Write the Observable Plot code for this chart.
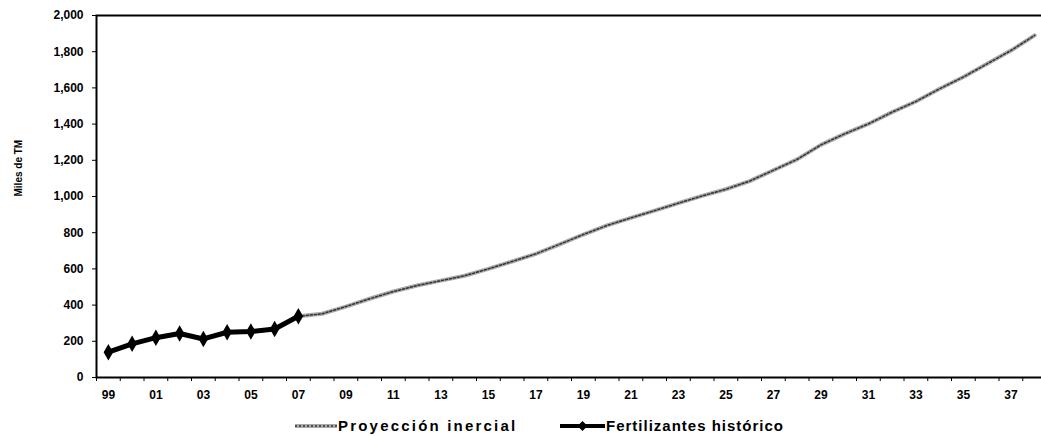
<!DOCTYPE html>
<html><head><meta charset="utf-8">
<script src="https://cdn.jsdelivr.net/npm/d3@7"></script>
<script src="https://cdn.jsdelivr.net/npm/@observablehq/plot@0.6"></script>
<style>
html,body{margin:0;padding:0;background:#fff;overflow:hidden;width:1041px;height:436px;}
#chart{position:relative;width:1041px;height:412px;}
#chart svg{display:block;max-width:none;}
#legend{position:absolute;left:0;top:414px;width:1041px;height:24px;font-family:"Liberation Sans",Arial,sans-serif;font-weight:bold;font-size:15px;color:#000;}
.item{position:absolute;top:0;height:24px;line-height:24px;display:flex;align-items:center;white-space:nowrap;}
.item svg{display:block;margin-right:1px;}
</style></head><body>
<div id="chart"></div>
<div id="legend">
  <div class="item" style="left:295px;letter-spacing:2.2px"><svg width="42" height="10"><line x1="0" y1="5" x2="42" y2="5" stroke="#aaa" stroke-width="4"/><line x1="0" y1="5" x2="42" y2="5" stroke="#333" stroke-width="1.5" stroke-dasharray="2,2"/></svg><span>Proyección inercial</span></div>
  <div class="item" style="left:560px;letter-spacing:1px"><svg width="45" height="12"><line x1="0" y1="6" x2="45" y2="6" stroke="#000" stroke-width="4"/><path d="M22.5,1 L27.5,6 L22.5,11 L17.5,6 Z" fill="#000"/></svg><span>Fertilizantes histórico</span></div>
</div>
<script>
// Years (1999-2038)
const years = [1999,2000,2001,2002,2003,2004,2005,2006,2007,2008,2009,2010,2011,2012,2013,2014,2015,2016,2017,2018,2019,2020,2021,2022,2023,2024,2025,2026,2027,2028,2029,2030,2031,2032,2033,2034,2035,2036,2037,2038];
// Fertilizantes histórico (1999-2007), miles de TM
const histYears = [1999,2000,2001,2002,2003,2004,2005,2006,2007];
const historico = [140,186,220,243,213,250,254,268,338];
// Proyección inercial (2007-2038)
const projYears = [2007,2008,2009,2010,2011,2012,2013,2014,2015,2016,2017,2018,2019,2020,2021,2022,2023,2024,2025,2026,2027,2028,2029,2030,2031,2032,2033,2034,2035,2036,2037,2038];
const proyeccion = [338,352,392,435,475,508,535,562,600,641,683,736,790,840,882,922,963,1003,1040,1085,1145,1205,1285,1346,1401,1466,1525,1595,1660,1733,1806,1890];
// Tick labels
const xLabelYears = [1999,2001,2003,2005,2007,2009,2011,2013,2015,2017,2019,2021,2023,2025,2027,2029,2031,2033,2035,2037];
const xLabels = ["99","01","03","05","07","09","11","13","15","17","19","21","23","25","27","29","31","33","35","37"];
const yTicks = [0,200,400,600,800,1000,1200,1400,1600,1800,2000];

const histData = historico.map((v,i)=>({year:histYears[i], value:v}));
const projData = proyeccion.map((v,i)=>({year:projYears[i], value:v}));
const boundaryTicks = years.map(y => y - 0.5).concat([years[years.length-1] + 0.5]);
const labelMap = new Map(xLabelYears.map((y,i)=>[y, xLabels[i]]));

const chart = Plot.plot({
  width:1041, height:412,
  marginLeft:96, marginRight:-5, marginTop:15, marginBottom:35,
  style:{fontFamily:"Liberation Sans, Arial, sans-serif", fontSize:"12px", color:"#000", background:"transparent", overflow:"visible"},
  x:{domain:[years[0]-0.5, years[years.length-1]+0.5]},
  y:{domain:[0,2000]},
  marks:[
    Plot.axisY({ticks:yTicks, tickFormat:d3.format(","), tickSize:4, tickPadding:9, fontWeight:"bold", label:null}),
    Plot.axisX({ticks:boundaryTicks, tickSize:4, tickFormat:()=>"", label:null}),
    Plot.axisX({ticks:xLabelYears, tickSize:0, tickPadding:13, tickFormat:d=>labelMap.get(d), fontWeight:"bold", label:null}),
    Plot.text(["Miles de TM"], {frameAnchor:"left", dx:-78, rotate:-90, fontSize:10, fontWeight:"bold"}),
    Plot.frame({stroke:"#000", strokeWidth:2}),
    Plot.line(projData, {x:"year", y:"value", stroke:"#aaa", strokeWidth:4}),
    Plot.line(projData, {x:"year", y:"value", stroke:"#333", strokeWidth:1.5, strokeDasharray:"2,2"}),
    Plot.line(histData, {x:"year", y:"value", stroke:"#000", strokeWidth:5, curve:"linear"}),
    Plot.dot(histData, {x:"year", y:"value", symbol:"diamond", fill:"#000", r:5})
  ]
});
document.getElementById("chart").appendChild(chart);
</script>
</body></html>
